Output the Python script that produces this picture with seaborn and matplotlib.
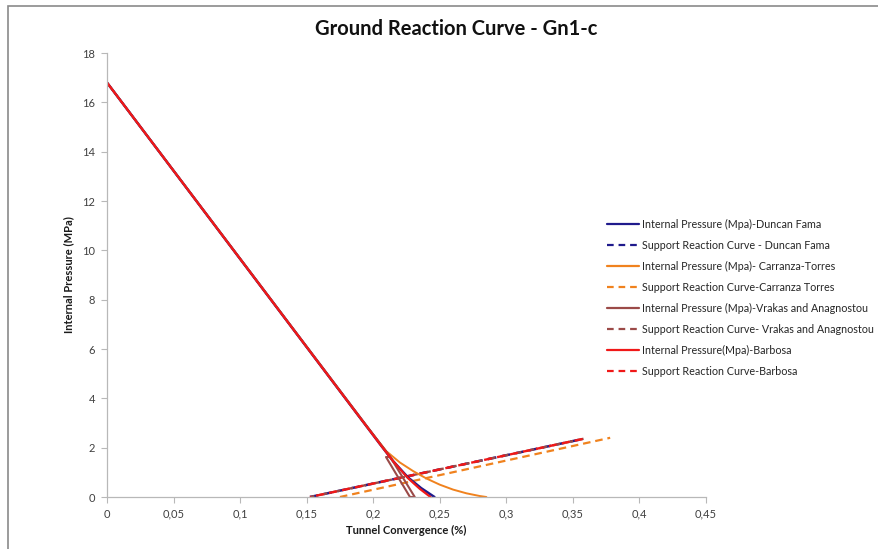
import matplotlib
matplotlib.use("Agg")
import matplotlib.pyplot as plt
from matplotlib.patches import Rectangle
from matplotlib.lines import Line2D
from matplotlib.ticker import FuncFormatter
import numpy as np
import pandas as pd
import seaborn as sns

# Ground reaction curves: convergence (%) vs internal pressure (MPa)
df_x = [0.0, 0.19, 0.205, 0.215, 0.226, 0.236, 0.246]
df_p = [16.8, 3.22, 2.15, 1.45, 0.80, 0.36, 0.0]

ct_x = [0.0, 0.19, 0.21, 0.22, 0.23, 0.24, 0.25, 0.26, 0.27, 0.28, 0.285]
ct_p = [16.8, 3.22, 1.85, 1.40, 1.05, 0.75, 0.50, 0.30, 0.15, 0.04, 0.0]

va_x = [0.0, 0.2128, 0.2312, 0.2276, 0.2096, 0.2128]
va_p = [16.8, 1.62, 0.0, 0.0, 1.62, 1.62]

ba_x = [0.0, 0.19, 0.205, 0.215, 0.226, 0.235, 0.243]
ba_p = [16.8, 3.22, 2.15, 1.45, 0.77, 0.33, 0.0]

# Support reaction curves
src_x = [0.1525, 0.358]
src_p = [0.0, 2.36]
src_ct_x = [0.175, 0.378]
src_ct_p = [0.0, 2.40]

x_ticks = [0, 0.05, 0.1, 0.15, 0.2, 0.25, 0.3, 0.35, 0.4, 0.45]
y_ticks = [0, 2, 4, 6, 8, 10, 12, 14, 16, 18]

labels = [
    "Internal Pressure (Mpa)-Duncan Fama",
    "Support Reaction Curve - Duncan Fama",
    "Internal Pressure (Mpa)- Carranza-Torres",
    "Support Reaction Curve-Carranza Torres",
    "Internal Pressure (Mpa)-Vrakas and Anagnostou",
    "Support Reaction Curve- Vrakas and Anagnostou",
    "Internal Pressure(Mpa)-Barbosa",
    "Support Reaction Curve-Barbosa",
]

BLUE = "#1f1a8c"
ORANGE = "#f0821e"
BROWN = "#9b4a48"
RED = "#f01818"

sns.set_theme(style="white")
plt.rcParams["font.family"] = ["Lato", "DejaVu Sans"]

W, H = 879, 549
fig = plt.figure(figsize=(W / 100, H / 100), dpi=100)
ax = fig.add_axes([107 / W, 1 - 497 / H, (706 - 107) / W, (497 - 53) / H])

# outer chart frame
fig.patches.append(Rectangle((8 / W, -0.1), 1.2, 1 - 6 / H + 0.1,
                             transform=fig.transFigure, fill=False,
                             edgecolor="#8a8a8a", linewidth=1.2))


def draw(x, p, color, dashes=None, lw=1.6, z=2):
    d = pd.DataFrame({"x": x, "p": p})
    sns.lineplot(data=d, x="x", y="p", sort=False, estimator=None,
                 color=color, linewidth=lw, ax=ax, zorder=z)
    line = ax.lines[-1]
    if dashes is not None:
        line.set_linestyle(dashes)
    return line


draw(src_ct_x, src_ct_p, ORANGE, dashes=(0, (3.4, 2.2)), lw=1.6)
draw(src_x, src_p, BLUE, dashes=(0, (3.4, 2.2)), lw=1.8)
draw(src_x, src_p, BROWN, dashes=(1.5, (3.4, 2.2)), lw=1.7)
draw(src_x, src_p, RED, dashes=(3.0, (3.4, 2.2)), lw=1.7)

draw(ct_x, ct_p, ORANGE, lw=1.4)
draw(df_x, df_p, BLUE, lw=1.8)
draw(va_x, va_p, BROWN, lw=1.5)
draw(ba_x, ba_p, RED, lw=1.6)

ax.set_xlim(0, 0.45)
ax.set_ylim(0, 18)
ax.set_xticks(x_ticks)
ax.set_yticks(y_ticks)
ax.xaxis.set_major_formatter(FuncFormatter(lambda v, _: f"{v:g}".replace(".", ",")))
ax.yaxis.set_major_formatter(FuncFormatter(lambda v, _: f"{v:g}"))

for s in ["top", "right"]:
    ax.spines[s].set_visible(False)
for s in ["left", "bottom"]:
    ax.spines[s].set_color("#b8b8b8")
    ax.spines[s].set_linewidth(0.9)
ax.tick_params(axis="both", which="major", direction="out", length=4,
               width=0.8, color="#b8b8b8", labelsize=8, labelcolor="#404040",
               left=True, bottom=True, pad=4.5)
ax.grid(False)

ax.set_xlabel("Tunnel Convergence (%)", fontsize=8, fontweight="bold",
              color="#1a1a1a", labelpad=4)
ax.set_ylabel("Internal Pressure (MPa)", fontsize=8, fontweight="bold",
              color="#1a1a1a", labelpad=6)

fig.text(456 / W, 1 - 29 / H, "Ground Reaction Curve - Gn1-c", ha="center",
         va="center", fontsize=14.5, fontweight="bold", color="#111111")

colors = [BLUE, BLUE, ORANGE, ORANGE, BROWN, BROWN, RED, RED]
handles = []
for i, (c, lab) in enumerate(zip(colors, labels)):
    ls = "-" if i % 2 == 0 else (0, (3.0, 2.2))
    handles.append(Line2D([0], [0], color=c, linewidth=1.6, linestyle=ls))
fig.legend(handles, labels, loc="upper left",
           bbox_to_anchor=(607 / W, 1 - 219 / H), frameon=False,
           fontsize=7.75, handlelength=3.0, handletextpad=0.25,
           labelspacing=0.93, borderpad=0, borderaxespad=0,
           labelcolor="#262626")

fig.savefig("out.png", dpi=100)
